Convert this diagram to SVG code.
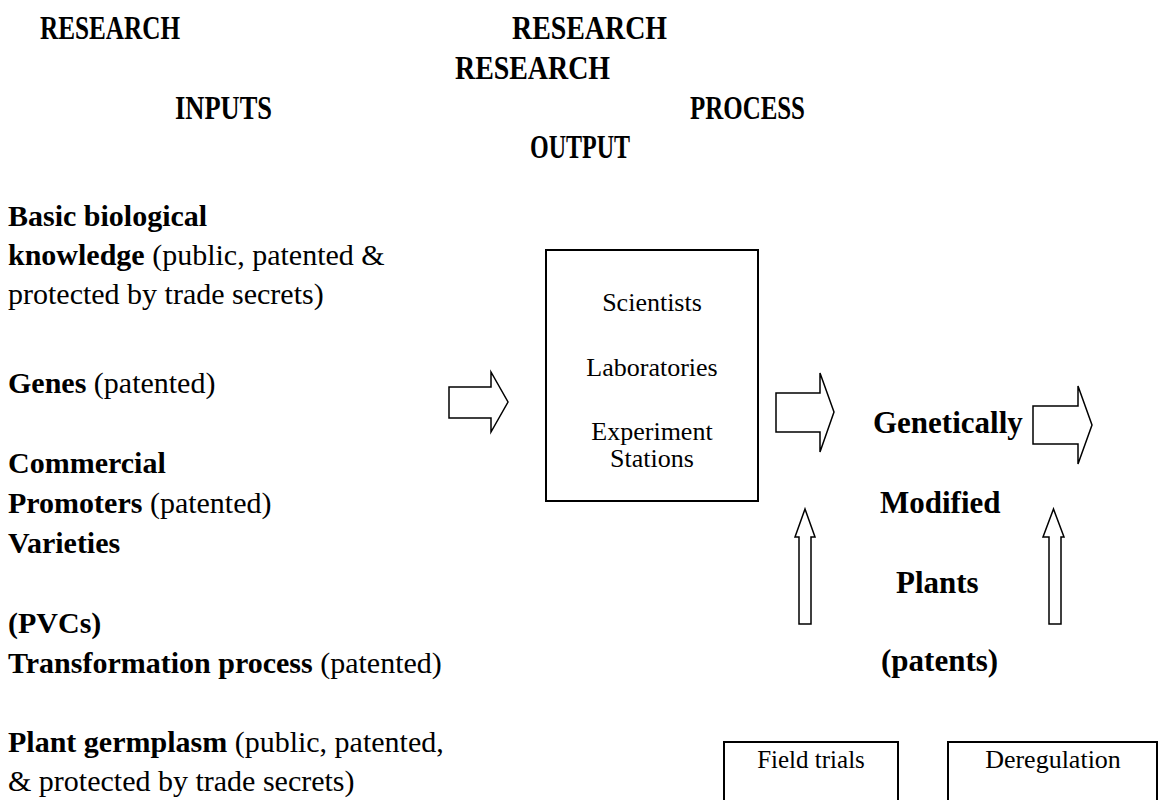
<svg xmlns="http://www.w3.org/2000/svg" width="1160" height="800" viewBox="0 0 1160 800">
<style>
text{font-family:"Liberation Serif","Times New Roman",serif;fill:#000}
.h{font-size:33px;font-weight:bold}
.t{font-size:30px}
.b{font-weight:bold}
.r{font-size:31px;font-weight:bold}
.bx{font-size:26px}
.node{fill:#fff;stroke:#000;stroke-width:2}
.arr{fill:#fff;stroke:#000;stroke-width:1.5;stroke-linejoin:miter}
</style>
<rect width="1160" height="800" fill="#fff"/>
<g id="headings">
<text class="h" x="40" y="39" textLength="140" lengthAdjust="spacingAndGlyphs">RESEARCH</text>
<text class="h" x="512" y="39" textLength="155" lengthAdjust="spacingAndGlyphs">RESEARCH</text>
<text class="h" x="455" y="79" textLength="155" lengthAdjust="spacingAndGlyphs">RESEARCH</text>
<text class="h" x="175" y="119" textLength="97" lengthAdjust="spacingAndGlyphs">INPUTS</text>
<text class="h" x="690" y="119" textLength="115" lengthAdjust="spacingAndGlyphs">PROCESS</text>
<text class="h" x="530" y="158" textLength="100" lengthAdjust="spacingAndGlyphs">OUTPUT</text>
</g>
<g id="inputs">
<text class="t" x="8" y="226"><tspan class="b">Basic biological</tspan></text>
<text class="t" x="8" y="265"><tspan class="b">knowledge</tspan> (public, patented &amp;</text>
<text class="t" x="8" y="304">protected by trade secrets)</text>
<text class="t" x="8" y="393"><tspan class="b">Genes</tspan> (patented)</text>
<text class="t" x="8" y="473"><tspan class="b">Commercial</tspan></text>
<text class="t" x="8" y="513"><tspan class="b">Promoters</tspan>  (patented)</text>
<text class="t" x="8" y="553"><tspan class="b">Varieties</tspan></text>
<text class="t" x="8" y="633"><tspan class="b">(PVCs)</tspan></text>
<text class="t" x="8" y="673"><tspan class="b">Transformation process</tspan> (patented)</text>
<text class="t" x="8" y="752"><tspan class="b">Plant germplasm</tspan> (public, patented,</text>
<text class="t" x="8" y="791">&amp; protected by trade secrets)</text>
</g>
<g id="process">
<rect class="node" x="546" y="250" width="212" height="251"/>
<text class="bx" x="652" y="311" text-anchor="middle">Scientists</text>
<text class="bx" x="652" y="376" text-anchor="middle">Laboratories</text>
<text class="bx" x="652" y="440" text-anchor="middle">Experiment</text>
<text class="bx" x="652" y="467" text-anchor="middle">Stations</text>
</g>
<g id="output">
<text class="r" x="873" y="433">Genetically</text>
<text class="r" x="880" y="513">Modified</text>
<text class="r" x="896" y="593">Plants</text>
<text class="r" x="881" y="671">(patents)</text>
</g>
<g id="field-trials">
<rect class="node" x="724" y="742" width="174" height="70"/>
<text class="bx" x="811" y="768" text-anchor="middle" style="font-size:25px">Field trials</text>
</g>
<g id="deregulation">
<rect class="node" x="948" y="742" width="209" height="70"/>
<text class="bx" x="1053" y="768" text-anchor="middle">Deregulation</text>
</g>
<g id="connectors">
<polygon class="arr" points="449,387 491,387 491,372 508,402 491,432 491,418 449,418"/>
<polygon class="arr" points="776,393 820,393 820,373 834,412 820,452 820,432 776,432"/>
<polygon class="arr" points="1033,406 1078,406 1078,386 1092,425 1078,464 1078,444 1033,444"/>
<polygon class="arr" points="805,509 815,537 811,537 811,624 799,624 799,537 795,537"/>
<polygon class="arr" points="1053.5,509 1064,537 1061,537 1061,624 1049,624 1049,537 1043,537"/>
</g>
</svg>
